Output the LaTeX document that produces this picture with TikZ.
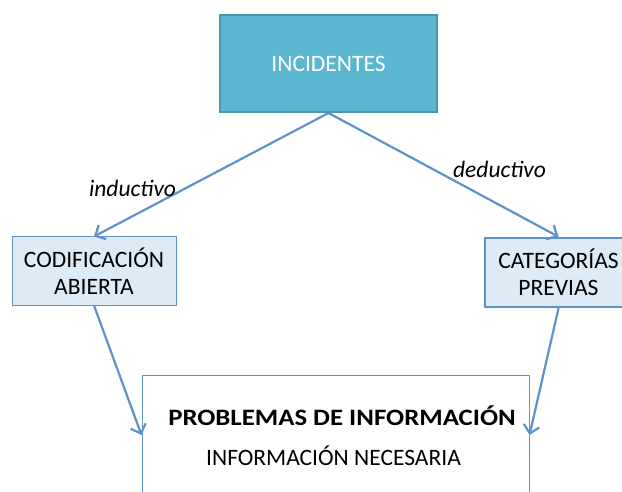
\documentclass[tikz,border=0pt]{standalone}
\usepackage{fontspec}
\setmainfont{Carlito}
\usetikzlibrary{arrows.meta}
\definecolor{incfill}{RGB}{91,183,208}
\definecolor{incline}{RGB}{72,150,172}
\definecolor{boxfill}{RGB}{221,235,246}
\definecolor{flecha}{RGB}{95,145,202}
\newcommand{\tamano}{\fontsize{23.5}{26.7}\selectfont}
\tikzset{
  caja/.style={font=\tamano,draw=flecha,fill=boxfill,align=center,inner sep=0pt},
  flec/.style={draw=flecha,line width=2.2pt,-{Straight Barb[length=8pt,width=16pt,line width=2.2pt]}},
}
\begin{document}
\begin{tikzpicture}[x=1pt,y=-1pt]
\clip (0,0) rectangle (622,492);
% cajas
\node[font=\tamano,fill=incfill,draw=incline,line width=2pt,minimum width=217pt,minimum height=97pt,text=white] (inc) at (328.5,63.5) {INCIDENTES};
\node[caja,line width=1pt,minimum width=164pt,minimum height=68pt] (cod) at (94,271) {CODIFICACIÓN\\ABIERTA};
\node[caja,line width=2.5pt,minimum width=147pt,minimum height=69pt] (cat) at (558.5,272.5) {CATEGORÍAS\\PREVIAS};
\node[draw=flecha,fill=white,line width=1pt,minimum width=387pt,minimum height=120pt] (prob) at (335.5,435) {};
\node[font=\tamano\bfseries,anchor=base] (probt) at (342,425) {\scalebox{1.14}[1]{PROBLEMAS DE INFORMACIÓN}};
\node[font=\tamano,anchor=base] (nec) at (333.5,465) {INFORMACIÓN NECESARIA};
% flechas
\draw[flec] (inc.south)--(cod.north);
\draw[flec] (inc.south)--(cat.north);
\draw[flec] (cod.south)--(prob.west);
\draw[flec] (cat.south)--(prob.east);
\node[font=\tamano\itshape,anchor=base] (ind) at (132.5,197) {inductivo};
\node[font=\tamano\itshape,anchor=base] (ded) at (499.5,178) {deductivo};
\end{tikzpicture}
\end{document}
